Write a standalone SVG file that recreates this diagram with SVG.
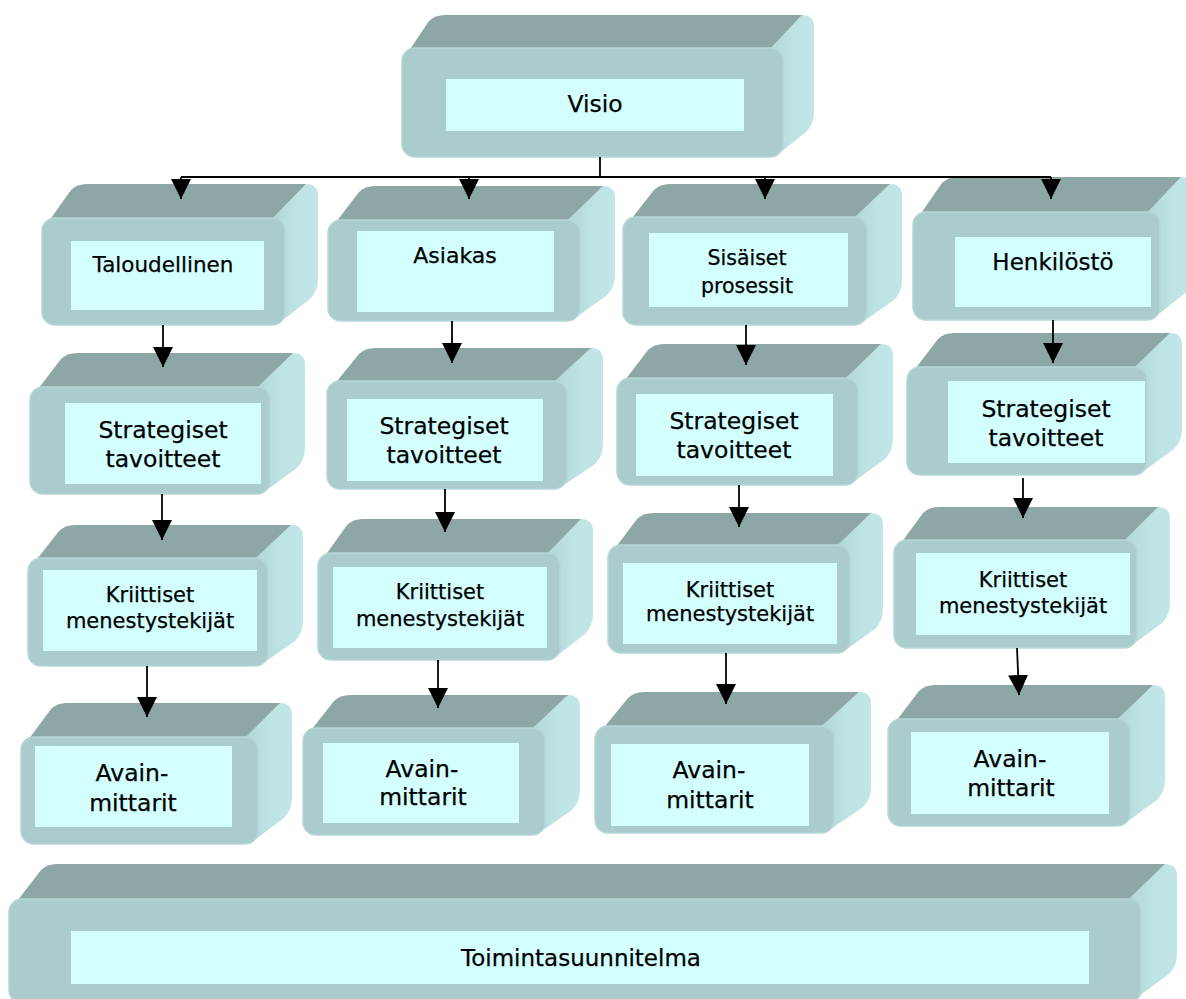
<svg xmlns="http://www.w3.org/2000/svg" width="1186" height="999" viewBox="0 0 1186 999">
  <defs>
    <linearGradient id="sideGrad" x1="0" y1="0" x2="1" y2="0">
      <stop offset="0" stop-color="#b0d6d6"/>
      <stop offset="0.5" stop-color="#bde3e3"/>
      <stop offset="1" stop-color="#c2e6e7"/>
    </linearGradient>
    <marker id="arrow" markerUnits="userSpaceOnUse" markerWidth="20" markerHeight="20" refX="20" refY="10" orient="auto">
      <path d="M0,0 L20,10 L0,20 Z" fill="#000"/>
    </marker>
    <style>
      .side { fill: url(#sideGrad); }
      .top { fill: #8da7a7; }
      .front { fill: #aacccc; stroke: #b6d6d6; stroke-width: 1.5; }
      .inner { fill: #d3ffff; }
      .lbl { font-family: "DejaVu Sans", "Liberation Sans", sans-serif; fill: #000; text-anchor: middle; stroke: #000; stroke-width: 0.25; }
      .conn { stroke: #000; stroke-width: 1.8; fill: none; }
    </style>
  </defs>
  <rect width="1186" height="999" fill="#fff"/>

  <!-- Top level -->
  <g id="visio">
    <g transform="translate(402,48)">
      <path class="side" d="M369,0 L400,-33 Q412,-33 412,-21 L412,64 Q412,76 404,84 L375,107 Z"/>
      <path class="top" d="M2,10 L27,-27 Q33,-33 43,-33 L400,-33 L369,0 Z"/>
      <rect class="front" x="0" y="0" width="381" height="109" rx="13"/>
    </g>
    <rect class="inner" x="446" y="79" width="298" height="52"/>
    <text class="lbl" x="595" y="112" font-size="23.5">Visio</text>
  </g>

  <!-- Perspectives -->
  <g id="taloudellinen">
    <g transform="translate(42,218)">
      <path class="side" d="M231,0 L264,-34 Q276,-34 276,-22 L276,61 Q276,73 268,81 L237,105 Z"/>
      <path class="top" d="M2,10 L29,-28 Q35,-34 45,-34 L264,-34 L231,0 Z"/>
      <rect class="front" x="0" y="0" width="243" height="107" rx="13"/>
    </g>
    <rect class="inner" x="71" y="241" width="193" height="69"/>
    <text class="lbl" x="163" y="272" font-size="21.5">Taloudellinen</text>
  </g>

  <g id="asiakas">
    <g transform="translate(328,220)">
      <path class="side" d="M240,0 L275,-34 Q287,-34 287,-22 L287,55 Q287,67 279,75 L246,99 Z"/>
      <path class="top" d="M2,10 L31,-28 Q37,-34 47,-34 L275,-34 L240,0 Z"/>
      <rect class="front" x="0" y="0" width="252" height="101" rx="13"/>
    </g>
    <rect class="inner" x="357" y="231" width="197" height="81"/>
    <text class="lbl" x="455" y="263" font-size="22">Asiakas</text>
  </g>

  <g id="sisaiset-prosessit">
    <g transform="translate(623,217)">
      <path class="side" d="M232,0 L267,-33 Q279,-33 279,-21 L279,63 Q279,75 271,83 L238,106 Z"/>
      <path class="top" d="M2,10 L31,-27 Q37,-33 47,-33 L267,-33 L232,0 Z"/>
      <rect class="front" x="0" y="0" width="244" height="108" rx="13"/>
    </g>
    <rect class="inner" x="649" y="233" width="199" height="74"/>
    <text class="lbl" x="747" y="265" font-size="20.5">Sisäiset</text>
    <text class="lbl" x="747" y="293" font-size="20.5">prosessit</text>
  </g>

  <g id="henkilosto">
    <g transform="translate(913,212)">
      <path class="side" d="M235,0 L268,-35 Q280,-35 280,-23 L280,61 Q280,73 272,81 L241,106 Z"/>
      <path class="top" d="M2,10 L29,-29 Q35,-35 45,-35 L268,-35 L235,0 Z"/>
      <rect class="front" x="0" y="0" width="247" height="108" rx="13"/>
    </g>
    <rect class="inner" x="955" y="237" width="196" height="70"/>
    <text class="lbl" x="1053" y="270" font-size="23">Henkilöstö</text>
  </g>

  <!-- Strategic objectives -->
  <g id="strategiset-1">
    <g transform="translate(30,387)">
      <path class="side" d="M228,0 L263,-34 Q275,-34 275,-22 L275,61 Q275,73 267,81 L234,105 Z"/>
      <path class="top" d="M2,10 L31,-28 Q37,-34 47,-34 L263,-34 L228,0 Z"/>
      <rect class="front" x="0" y="0" width="240" height="107" rx="13"/>
    </g>
    <rect class="inner" x="65" y="403" width="196" height="81"/>
    <text class="lbl" x="163" y="438" font-size="23.5">Strategiset</text>
    <text class="lbl" x="163" y="467" font-size="23.5">tavoitteet</text>
  </g>

  <g id="strategiset-2">
    <g transform="translate(327,381)">
      <path class="side" d="M228,0 L264,-33 Q276,-33 276,-21 L276,63 Q276,75 268,83 L234,106 Z"/>
      <path class="top" d="M2,10 L32,-27 Q38,-33 48,-33 L264,-33 L228,0 Z"/>
      <rect class="front" x="0" y="0" width="240" height="108" rx="13"/>
    </g>
    <rect class="inner" x="347" y="399" width="196" height="82"/>
    <text class="lbl" x="444" y="434" font-size="23.5">Strategiset</text>
    <text class="lbl" x="444" y="463" font-size="23.5">tavoitteet</text>
  </g>

  <g id="strategiset-3">
    <g transform="translate(617,378)">
      <path class="side" d="M229,0 L264,-34 Q276,-34 276,-22 L276,61 Q276,73 268,81 L235,105 Z"/>
      <path class="top" d="M2,10 L31,-28 Q37,-34 47,-34 L264,-34 L229,0 Z"/>
      <rect class="front" x="0" y="0" width="241" height="107" rx="13"/>
    </g>
    <rect class="inner" x="636" y="394" width="197" height="82"/>
    <text class="lbl" x="734" y="429" font-size="23.5">Strategiset</text>
    <text class="lbl" x="734" y="458" font-size="23.5">tavoitteet</text>
  </g>

  <g id="strategiset-4">
    <g transform="translate(907,367)">
      <path class="side" d="M228,0 L263,-34 Q275,-34 275,-22 L275,62 Q275,74 267,82 L234,106 Z"/>
      <path class="top" d="M2,10 L31,-28 Q37,-34 47,-34 L263,-34 L228,0 Z"/>
      <rect class="front" x="0" y="0" width="240" height="108" rx="13"/>
    </g>
    <rect class="inner" x="948" y="381" width="197" height="82"/>
    <text class="lbl" x="1046" y="417" font-size="23.5">Strategiset</text>
    <text class="lbl" x="1046" y="446" font-size="23.5">tavoitteet</text>
  </g>

  <!-- Critical success factors -->
  <g id="kriittiset-1">
    <g transform="translate(28,558)">
      <path class="side" d="M228,0 L263,-33 Q275,-33 275,-21 L275,63 Q275,75 267,83 L234,106 Z"/>
      <path class="top" d="M2,10 L31,-27 Q37,-33 47,-33 L263,-33 L228,0 Z"/>
      <rect class="front" x="0" y="0" width="240" height="108" rx="13"/>
    </g>
    <rect class="inner" x="43" y="570" width="214" height="81"/>
    <text class="lbl" x="150" y="602" font-size="21">Kriittiset</text>
    <text class="lbl" x="150" y="628" font-size="21">menestystekijät</text>
  </g>

  <g id="kriittiset-2">
    <g transform="translate(318,553)">
      <path class="side" d="M230,0 L263,-34 Q275,-34 275,-22 L275,61 Q275,73 267,81 L236,105 Z"/>
      <path class="top" d="M2,10 L29,-28 Q35,-34 45,-34 L263,-34 L230,0 Z"/>
      <rect class="front" x="0" y="0" width="242" height="107" rx="13"/>
    </g>
    <rect class="inner" x="333" y="567" width="214" height="81"/>
    <text class="lbl" x="440" y="599" font-size="21">Kriittiset</text>
    <text class="lbl" x="440" y="626" font-size="21">menestystekijät</text>
  </g>

  <g id="kriittiset-3">
    <g transform="translate(608,545)">
      <path class="side" d="M230,0 L263,-32 Q275,-32 275,-20 L275,64 Q275,76 267,84 L236,106 Z"/>
      <path class="top" d="M2,10 L29,-26 Q35,-32 45,-32 L263,-32 L230,0 Z"/>
      <rect class="front" x="0" y="0" width="242" height="108" rx="13"/>
    </g>
    <rect class="inner" x="623" y="563" width="214" height="81"/>
    <text class="lbl" x="730" y="597" font-size="21">Kriittiset</text>
    <text class="lbl" x="730" y="621" font-size="21">menestystekijät</text>
  </g>

  <g id="kriittiset-4">
    <g transform="translate(894,540)">
      <path class="side" d="M231,0 L264,-33 Q276,-33 276,-21 L276,63 Q276,75 268,83 L237,106 Z"/>
      <path class="top" d="M2,10 L29,-27 Q35,-33 45,-33 L264,-33 L231,0 Z"/>
      <rect class="front" x="0" y="0" width="243" height="108" rx="13"/>
    </g>
    <rect class="inner" x="916" y="553" width="214" height="82"/>
    <text class="lbl" x="1023" y="587" font-size="21">Kriittiset</text>
    <text class="lbl" x="1023" y="613" font-size="21">menestystekijät</text>
  </g>

  <!-- Key measures -->
  <g id="avainmittarit-1">
    <g transform="translate(21,737)">
      <path class="side" d="M225,0 L259,-34 Q271,-34 271,-22 L271,61 Q271,73 263,81 L231,105 Z"/>
      <path class="top" d="M2,10 L30,-28 Q36,-34 46,-34 L259,-34 L225,0 Z"/>
      <rect class="front" x="0" y="0" width="237" height="107" rx="13"/>
    </g>
    <rect class="inner" x="35" y="746" width="197" height="81"/>
    <text class="lbl" x="132" y="781" font-size="23.5">Avain-</text>
    <text class="lbl" x="133" y="811" font-size="23.5">mittarit</text>
  </g>

  <g id="avainmittarit-2">
    <g transform="translate(303,728)">
      <path class="side" d="M230,0 L265,-33 Q277,-33 277,-21 L277,62 Q277,74 269,82 L236,105 Z"/>
      <path class="top" d="M2,10 L31,-27 Q37,-33 47,-33 L265,-33 L230,0 Z"/>
      <rect class="front" x="0" y="0" width="242" height="107" rx="13"/>
    </g>
    <rect class="inner" x="323" y="743" width="196" height="80"/>
    <text class="lbl" x="422" y="777" font-size="23.5">Avain-</text>
    <text class="lbl" x="423" y="805" font-size="23.5">mittarit</text>
  </g>

  <g id="avainmittarit-3">
    <g transform="translate(595,726)">
      <path class="side" d="M227,0 L264,-34 Q276,-34 276,-22 L276,61 Q276,73 268,81 L233,105 Z"/>
      <path class="top" d="M2,10 L33,-28 Q39,-34 49,-34 L264,-34 L227,0 Z"/>
      <rect class="front" x="0" y="0" width="239" height="107" rx="13"/>
    </g>
    <rect class="inner" x="611" y="744" width="198" height="82"/>
    <text class="lbl" x="709" y="778" font-size="23.5">Avain-</text>
    <text class="lbl" x="710" y="808" font-size="23.5">mittarit</text>
  </g>

  <g id="avainmittarit-4">
    <g transform="translate(888,719)">
      <path class="side" d="M230,0 L265,-34 Q277,-34 277,-22 L277,61 Q277,73 269,81 L236,105 Z"/>
      <path class="top" d="M2,10 L31,-28 Q37,-34 47,-34 L265,-34 L230,0 Z"/>
      <rect class="front" x="0" y="0" width="242" height="107" rx="13"/>
    </g>
    <rect class="inner" x="911" y="732" width="198" height="82"/>
    <text class="lbl" x="1010" y="767" font-size="23.5">Avain-</text>
    <text class="lbl" x="1011" y="796" font-size="23.5">mittarit</text>
  </g>

  <!-- Action plan -->
  <g id="toimintasuunnitelma">
    <g transform="translate(9,899)">
      <path class="side" d="M1120,0 L1156,-35 Q1168,-35 1168,-23 L1168,55 Q1168,67 1160,75 L1126,100 Z"/>
      <path class="top" d="M2,10 L32,-29 Q38,-35 48,-35 L1156,-35 L1120,0 Z"/>
      <rect class="front" x="0" y="0" width="1132" height="104" rx="13"/>
    </g>
    <rect class="inner" x="71" y="931" width="1018" height="53"/>
    <text class="lbl" x="581" y="966" font-size="23">Toimintasuunnitelma</text>
  </g>

  <!-- Connectors -->
  <g id="connectors" class="conn">
    <line x1="600" y1="157" x2="600" y2="177"/>
    <line x1="181" y1="177" x2="1051" y2="177"/>
    <line x1="181" y1="177" x2="181" y2="199" marker-end="url(#arrow)"/>
    <line x1="469" y1="177" x2="469" y2="199" marker-end="url(#arrow)"/>
    <line x1="765" y1="177" x2="765" y2="199" marker-end="url(#arrow)"/>
    <line x1="1051" y1="177" x2="1051" y2="199" marker-end="url(#arrow)"/>

    <line x1="163" y1="325" x2="163" y2="367" marker-end="url(#arrow)"/>
    <line x1="452" y1="321" x2="452" y2="363" marker-end="url(#arrow)"/>
    <line x1="746" y1="325" x2="746" y2="365" marker-end="url(#arrow)"/>
    <line x1="1053" y1="320" x2="1053" y2="363" marker-end="url(#arrow)"/>

    <line x1="162" y1="494" x2="162" y2="540" marker-end="url(#arrow)"/>
    <line x1="445" y1="489" x2="445" y2="532" marker-end="url(#arrow)"/>
    <line x1="739" y1="485" x2="739" y2="527" marker-end="url(#arrow)"/>
    <line x1="1023" y1="478" x2="1023" y2="518" marker-end="url(#arrow)"/>

    <line x1="147" y1="666" x2="147" y2="717" marker-end="url(#arrow)"/>
    <line x1="438" y1="660" x2="438" y2="708" marker-end="url(#arrow)"/>
    <line x1="726" y1="653" x2="726" y2="704" marker-end="url(#arrow)"/>
    <line x1="1017" y1="648" x2="1019" y2="695" marker-end="url(#arrow)"/>
  </g>
</svg>
